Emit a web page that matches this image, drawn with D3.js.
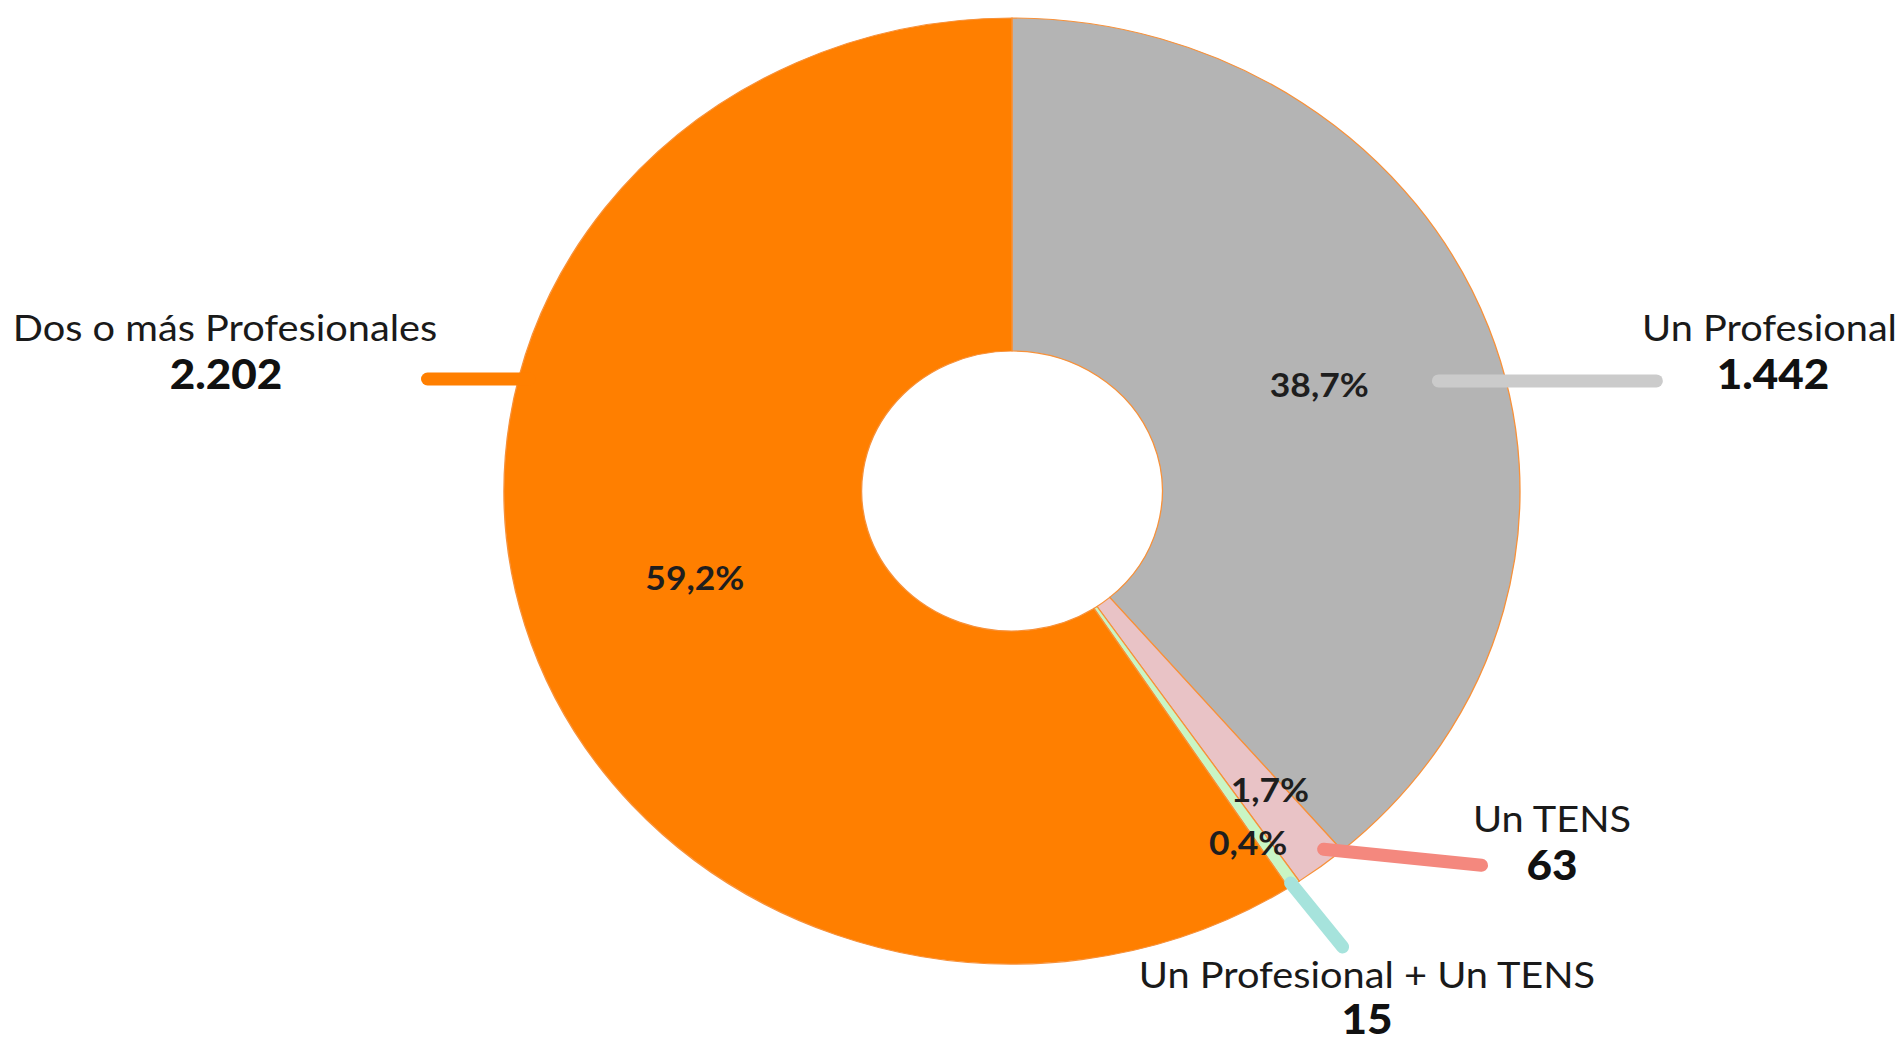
<!DOCTYPE html>
<html>
<head>
<meta charset="utf-8">
<script src="https://cdn.jsdelivr.net/npm/d3@7"></script>
<style>
  html, body { margin: 0; padding: 0; background: #fff; }
  svg { display: block; font-family: Lato, "Open Sans", sans-serif; }
</style>
</head>
<body>
<div id="chart"></div>
<script>
// data
var categories = ["Un Profesional", "Un TENS", "Un Profesional + Un TENS", "Dos o más Profesionales"];
var values = [1442, 63, 15, 2202];
var sliceColors = ["#b4b4b4", "#e9c3c6", "#c9f5c4", "#ff7f00"];
var leaderColors = ["#cbcbcb", "#f4887e", "#a6e3dc", "#ff7f00"];

var W = 1904, H = 1042;
var cx = 1012, cy = 491;
var R = 473, r0 = 140, sx = 1.074;   // whole picture is a bit wider than high

var es = d3.formatLocale({decimal: ",", thousands: ".", grouping: [3], currency: ["", "€"]});
var fmtN = es.format(",");
var fmtP = es.format(".1f");

var svg = d3.select("#chart").append("svg").attr("width", W).attr("height", H);

var total = d3.sum(values);
var pie = d3.pie().sort(null).value(function (d) { return d; });
var arcs = pie(values);
var arc = d3.arc().innerRadius(r0).outerRadius(R);

var deg = Math.PI / 180;
// polar -> screen
function pt(a, rad) {
  return [cx + Math.sin(a) * rad * sx, cy - Math.cos(a) * rad];
}
function stretched(x, y) {
  return "translate(" + x + "," + y + ") scale(" + sx + ",1)";
}

var ring = svg.append("g").attr("transform", stretched(cx, cy));
ring.selectAll("path.slice")
  .data(arcs)
  .join("path")
  .attr("class", "slice")
  .attr("d", arc)
  .attr("fill", function (d, i) { return sliceColors[i]; })
  .attr("stroke", "#f7913a")
  .attr("stroke-width", 1.2);

// leader lines: start on the ring, then run out to the label
var leaders = [
  {a: 74.5, r: 412, dx: 218, dy: 0},
  {a: 141, r: 461, dx: 158, dy: 16},
  {a: 146.5, r: 470, dx: 52, dy: 64},
  {a: 284, r: 463, dx: -102, dy: 0}
];
svg.selectAll("line.leader")
  .data(arcs)
  .join("line")
  .attr("class", "leader")
  .each(function (d, i) {
    var L = leaders[i], p = pt(L.a * deg, L.r);
    d3.select(this)
      .attr("x1", p[0]).attr("y1", p[1])
      .attr("x2", p[0] + L.dx).attr("y2", p[1] + L.dy);
  })
  .attr("stroke", function (d, i) { return leaderColors[i]; })
  .attr("stroke-width", 13)
  .attr("stroke-linecap", "round");

// percentage labels; the two thin slices get theirs pushed outwards
var pctR = [305, 384, 415, 308];
var pctA = [null, 141.3, 148, null];
function pctPos(d, i) {
  var a = pctA[i] != null ? pctA[i] * deg : (d.startAngle + d.endAngle) / 2;
  return pt(a, pctR[i]);
}
svg.selectAll("text.pct")
  .data(arcs)
  .join("text")
  .attr("class", "pct")
  .attr("transform", function (d, i) { var p = pctPos(d, i); return stretched(p[0], p[1]); })
  .attr("dy", "0.35em")
  .attr("text-anchor", "middle")
  .style("font-size", "33px")
  .style("font-weight", 700)
  .style("fill", "#1e1e1e")
  .text(function (d) { return fmtP(d.value / total * 100) + "%"; });

// category names + counts
var labelPos = [
  {x: 1897, y: 341, anchor: "end", vx: 1773, gap: 48},
  {x: 1552, y: 832, anchor: "middle", vx: 1552, gap: 48},
  {x: 1367, y: 988, anchor: "middle", vx: 1367, gap: 46},
  {x: 225, y: 341, anchor: "middle", vx: 226, gap: 48}
];
var lab = svg.selectAll("g.lab").data(arcs).join("g").attr("class", "lab");
lab.append("text")
  .attr("transform", function (d, i) { return stretched(labelPos[i].x, labelPos[i].y); })
  .attr("text-anchor", function (d, i) { return labelPos[i].anchor; })
  .style("font-size", "37px")
  .style("fill", "#1a1a1a")
  .text(function (d, i) { return categories[i]; });
lab.append("text")
  .attr("transform", function (d, i) { return stretched(labelPos[i].vx, labelPos[i].y + labelPos[i].gap); })
  .attr("text-anchor", "middle")
  .style("font-size", "41px")
  .style("font-weight", 900)
  .style("fill", "#111")
  .text(function (d) { return fmtN(d.value); });
</script>
</body>
</html>
